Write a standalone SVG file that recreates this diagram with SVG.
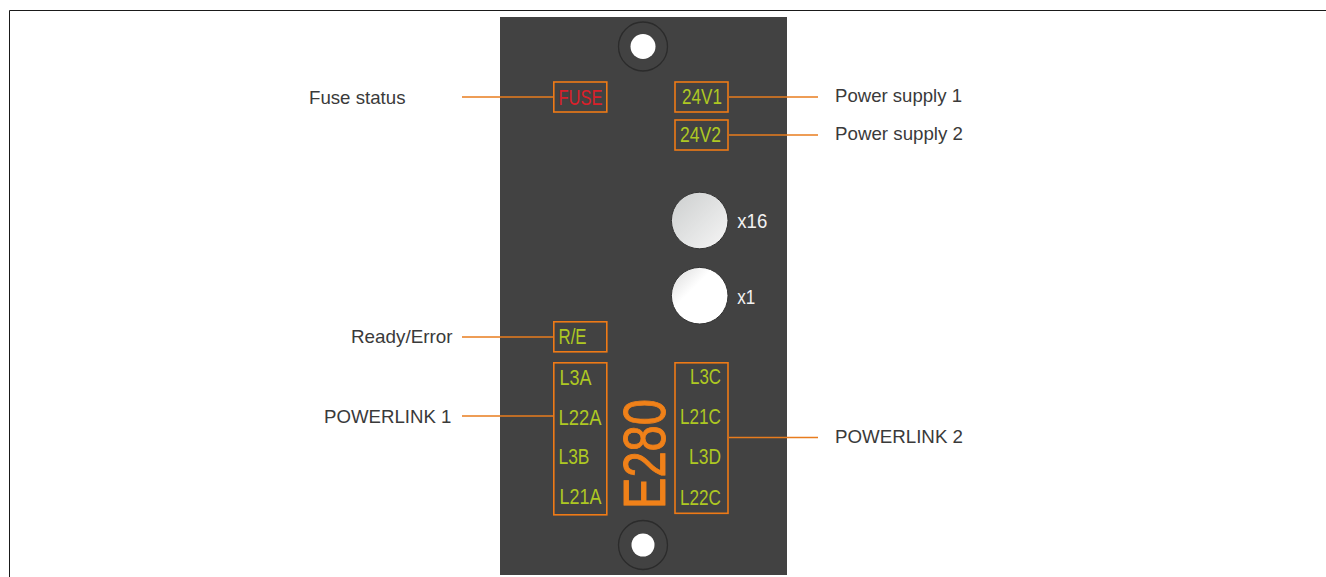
<svg xmlns="http://www.w3.org/2000/svg" width="1326" height="577" viewBox="0 0 1326 577">
<style>
.lbl{font-family:"Liberation Sans",Arial,sans-serif;font-size:18.5px;fill:#3a3a3a}
.led{font-family:"Liberation Sans",sans-serif;font-size:22px;fill:#aec822}
.box{fill:none;stroke:#ee7a16;stroke-width:1.6}
.c{stroke:#e87c1e;stroke-width:1.5;fill:none}
.w{font-family:"Liberation Sans",sans-serif;font-size:21px;fill:#f2f2f2}
</style>
<defs>
<linearGradient id="g1" x1="0.15" y1="0.15" x2="0.85" y2="0.85"><stop offset="0" stop-color="#d2d4d4"/><stop offset="1" stop-color="#f0f0f0"/></linearGradient>
<linearGradient id="g2" x1="0.15" y1="0.15" x2="0.38" y2="0.38"><stop offset="0" stop-color="#e8e8e8"/><stop offset="1" stop-color="#fff"/></linearGradient>
</defs>
<rect width="1326" height="577" fill="#fff"/>
<path d="M9.500 577V10.500H1326" fill="none" stroke="#1a1a1a" stroke-width="1"/>
<g id="panel">
<rect x="500" y="17" width="287" height="558" fill="#424242"/>
<circle cx="643" cy="46.500" r="24.500" fill="none" stroke="#2b2b2b" stroke-width="1.300"/>
<circle cx="643" cy="46.500" r="12.500" fill="#fff"/>
<circle cx="643" cy="545" r="24.500" fill="none" stroke="#2b2b2b" stroke-width="1.300"/>
<circle cx="643" cy="545" r="11.500" fill="#fff"/>
<text transform="translate(664.500,509) rotate(-90)" font-family="'Liberation Sans',sans-serif" font-size="59" fill="#f08119" stroke="#f08119" stroke-width="0.900" textLength="110" lengthAdjust="spacingAndGlyphs">E280</text>
</g>
<g id="connectors">
<path class="c" d="M462 97H553"/>
<path class="c" d="M729 97H818"/>
<path class="c" d="M729 135H818"/>
<path class="c" d="M462 337H553"/>
<path class="c" d="M462 416H553"/>
<path class="c" d="M729 437.500H818"/>
</g>
<g id="fuse"><rect class="box" x="553.800" y="82" width="53" height="30"/><text x="558.500" y="105" class="led" style="fill:#d9202a" textLength="44" lengthAdjust="spacingAndGlyphs">FUSE</text></g>
<g id="v1"><rect class="box" x="675" y="82" width="53" height="30"/><text x="682" y="104" class="led" textLength="40" lengthAdjust="spacingAndGlyphs">24V1</text></g>
<g id="v2"><rect class="box" x="675" y="120" width="53" height="30"/><text x="680" y="142" class="led" textLength="41" lengthAdjust="spacingAndGlyphs">24V2</text></g>
<g id="x16"><circle cx="699.700" cy="220.500" r="28.300" fill="url(#g1)" stroke="#333" stroke-width="1"/><text x="737.300" y="228" class="w" textLength="30" lengthAdjust="spacingAndGlyphs">x16</text></g>
<g id="x1"><circle cx="699.700" cy="295.700" r="28.300" fill="url(#g2)" stroke="#333" stroke-width="1"/><text x="737.300" y="304" class="w" textLength="18" lengthAdjust="spacingAndGlyphs">x1</text></g>
<g id="re"><rect class="box" x="553.800" y="321.800" width="53" height="30"/><text x="558.500" y="344" class="led" textLength="28" lengthAdjust="spacingAndGlyphs">R/E</text></g>
<g id="pl1"><rect class="box" x="553.800" y="362.800" width="53" height="152"/>
<text x="559.500" y="384.500" class="led" textLength="32" lengthAdjust="spacingAndGlyphs">L3A</text>
<text x="558.500" y="425" class="led" textLength="43" lengthAdjust="spacingAndGlyphs">L22A</text>
<text x="558.500" y="464" class="led" textLength="31" lengthAdjust="spacingAndGlyphs">L3B</text>
<text x="559.500" y="504" class="led" textLength="42" lengthAdjust="spacingAndGlyphs">L21A</text></g>
<g id="pl2"><rect class="box" x="675" y="362.800" width="53" height="150.500"/>
<text x="690" y="384" class="led" textLength="31" lengthAdjust="spacingAndGlyphs">L3C</text>
<text x="680" y="424" class="led" textLength="41" lengthAdjust="spacingAndGlyphs">L21C</text>
<text x="689" y="464" class="led" textLength="32" lengthAdjust="spacingAndGlyphs">L3D</text>
<text x="680" y="505" class="led" textLength="41" lengthAdjust="spacingAndGlyphs">L22C</text></g>
<g id="labels">
<text x="309" y="103.500" class="lbl" textLength="96.500" lengthAdjust="spacingAndGlyphs">Fuse status</text>
<text x="835" y="101.500" class="lbl" textLength="127" lengthAdjust="spacingAndGlyphs">Power supply 1</text>
<text x="835" y="139.500" class="lbl" textLength="128" lengthAdjust="spacingAndGlyphs">Power supply 2</text>
<text x="351" y="342.500" class="lbl" textLength="101.500" lengthAdjust="spacingAndGlyphs">Ready/Error</text>
<text x="324" y="422.500" class="lbl" textLength="127.500" lengthAdjust="spacingAndGlyphs">POWERLINK 1</text>
<text x="835" y="442.500" class="lbl" textLength="128" lengthAdjust="spacingAndGlyphs">POWERLINK 2</text>
</g>
</svg>
